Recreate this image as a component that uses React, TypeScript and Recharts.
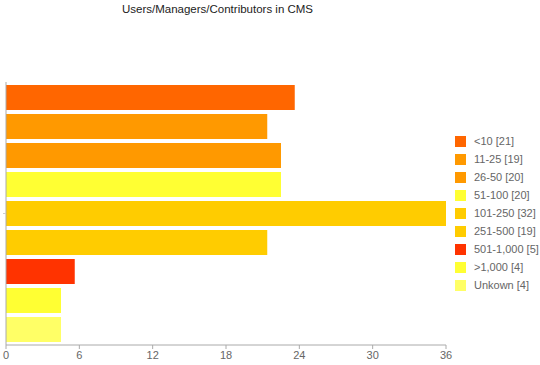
import React from 'react';
import { BarChart, Bar, XAxis, YAxis } from 'recharts';

const seriesNames = ['<10', '11-25', '26-50', '51-100', '101-250', '251-500', '501-1,000', '>1,000', 'Unkown'];
const seriesValues = [21, 19, 20, 20, 32, 19, 5, 4, 4];
const seriesColors = ['#FF6600', '#FF9900', '#FF9900', '#FFFF33', '#FFCC00', '#FFCC00', '#FF3300', '#FFFF33', '#FFFF66'];
const tickLabels = ['0', '6', '12', '18', '24', '30', '36'];

// one category, one bar per series
const row: Record<string, string | number> = { name: 'CMS' };
seriesNames.forEach((n, i) => {
  row['s' + i] = seriesValues[i];
});
const data = [row];

const maxValue = Math.max(...seriesValues);
const ticks = tickLabels.map((_, i) => (i * maxValue) / (tickLabels.length - 1));

const font = 'Arial, "Liberation Sans", sans-serif';

export default function App() {
  return (
    <div style={{ position: 'relative', width: 540, height: 365, background: '#fff' }}>
      <style>{'body{margin:0}'}</style>
      <div
        style={{
          position: 'absolute',
          top: 3,
          left: 0,
          width: 435,
          textAlign: 'center',
          fontFamily: font,
          fontSize: 11.5,
          color: '#222',
        }}
      >
        Users/Managers/Contributors in CMS
      </div>
      <div
        style={{ position: 'absolute', left: 455, top: 132, fontFamily: font, fontSize: 11, color: '#666' }}
      >
        {seriesNames.map((n, i) => (
          <div key={n} style={{ display: 'flex', alignItems: 'center', height: 18 }}>
            <span style={{ width: 11, height: 11, background: seriesColors[i], marginRight: 8, display: 'inline-block' }} />
            <span>{`${n} [${seriesValues[i]}]`}</span>
          </div>
        ))}
      </div>
      <BarChart
        width={540}
        height={365}
        data={data}
        layout="vertical"
        margin={{ top: 82, right: 94, bottom: 0, left: 0 }}
        barCategoryGap={3}
        barGap={4}
      >
        <XAxis
          type="number"
          domain={[0, maxValue]}
          ticks={ticks}
          tickFormatter={(v: number) => tickLabels[ticks.indexOf(v)] ?? ''}
          height={20}
          stroke="#aaa"
          tickSize={4}
          tick={{ fill: '#666', fontSize: 11, fontFamily: font }}
          interval={0}
        />
        <YAxis
          type="category"
          dataKey="name"
          width={6}
          stroke="#aaa"
          tickSize={3}
          tick={() => <g />}
          tickLine={{ stroke: '#ccc' }}
        />
        {seriesNames.map((n, i) => (
          <Bar key={n} dataKey={'s' + i} name={n} fill={seriesColors[i]} isAnimationActive={false} />
        ))}
      </BarChart>
    </div>
  );
}
